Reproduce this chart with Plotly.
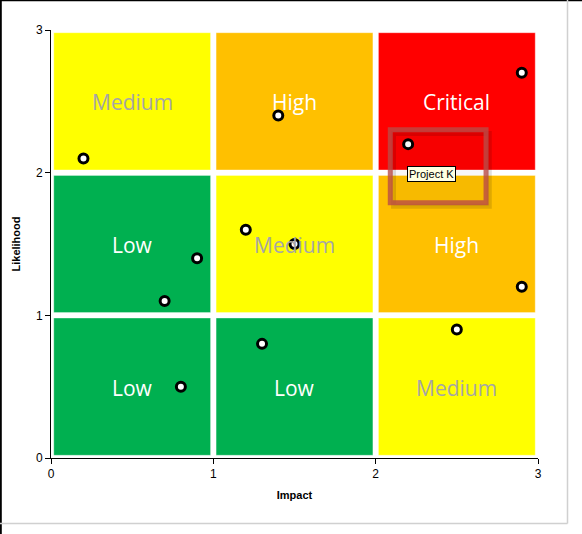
import plotly.graph_objects as go

# ---- data ----
impact_ticks = [0, 1, 2, 3]
likelihood_ticks = [0, 1, 2, 3]

# risk level per cell, rows = likelihood band (bottom -> top), cols = impact band (left -> right)
risk_grid = [
    ["Low", "Low", "Medium"],
    ["Low", "Medium", "High"],
    ["Medium", "High", "Critical"],
]
level_colors = {"Low": "#00B050", "Medium": "#FFFF00", "High": "#FFC000", "Critical": "#FF0000"}
label_colors = {"Low": "#FFFFFF", "Medium": "#A6A6A6", "High": "#FFFFFF", "Critical": "#FFFFFF"}

project_impact = [0.2, 1.4, 2.2, 2.9, 1.2, 1.5, 0.9, 0.7, 2.9, 2.5, 1.3, 0.8]
project_likelihood = [2.1, 2.4, 2.2, 2.7, 1.6, 1.5, 1.4, 1.1, 1.2, 0.9, 0.8, 0.5]

highlight_name = "Project K"
highlight_index = 2
highlight_box = [2.09, 2.68, 1.79, 2.30]  # x0, x1, y0, y1

# ---- layout geometry ----
W, H = 582, 534
ML, MR, MT, MB = 51, 44, 30, 76
PW, PH = W - ML - MR, H - MT - MB


def px_x(p):
    return (p - ML) / PW


def px_y(p):
    return (H - MB - p) / PH


fig = go.Figure()

shapes = []
annotations = []
ix, iy = 0.017, 0.019
for r, row in enumerate(risk_grid):
    for c, lvl in enumerate(row):
        shapes.append(dict(
            type="rect", xref="x", yref="y",
            x0=c + ix, x1=c + 1 - ix, y0=r + iy, y1=r + 1 - iy,
            fillcolor=level_colors[lvl],
            line=dict(color="rgba(255,255,255,0.35)", width=1),
            layer="below",
        ))
        annotations.append(dict(
            x=c + 0.5, y=r + 0.5, xref="x", yref="y", text=lvl, showarrow=False,
            font=dict(family="Open Sans", size=21, color=label_colors[lvl]),
            yshift=-1,
        ))

# highlight box (shadow + frame)
bx0, bx1, by0, by1 = highlight_box
shapes.append(dict(type="rect", xref="x", yref="y",
                   x0=bx0 + 0.02, x1=bx1 + 0.02, y0=by0 - 0.025, y1=by1 - 0.025,
                   line=dict(color="rgba(0,0,0,0.12)", width=5), fillcolor="rgba(0,0,0,0.03)"))
shapes.append(dict(type="rect", xref="x", yref="y",
                   x0=bx0, x1=bx1, y0=by0, y1=by1,
                   line=dict(color="rgba(185,75,70,0.8)", width=5), fillcolor="rgba(0,0,0,0)"))

# outer frame lines
shapes += [
    dict(type="line", xref="paper", yref="paper", x0=px_x(0), x1=px_x(W), y0=px_y(0.5), y1=px_y(0.5),
         line=dict(color="black", width=1.5)),
    dict(type="line", xref="paper", yref="paper", x0=px_x(0.8), x1=px_x(0.8), y0=px_y(0), y1=px_y(H),
         line=dict(color="black", width=2)),
    dict(type="line", xref="paper", yref="paper", x0=px_x(567.5), x1=px_x(567.5), y0=px_y(0), y1=px_y(523.5),
         line=dict(color="#D0D0D0", width=1.5)),
    dict(type="line", xref="paper", yref="paper", x0=px_x(0), x1=px_x(567.5), y0=px_y(523.5), y1=px_y(523.5),
         line=dict(color="#D0D0D0", width=1.5)),
]

fig.add_trace(go.Scatter(
    x=project_impact, y=project_likelihood, mode="markers",
    marker=dict(size=9, color="white", line=dict(color="black", width=3)),
    hoverinfo="skip", showlegend=False, cliponaxis=False,
))

# tooltip label
annotations.append(dict(
    x=project_impact[highlight_index], y=project_likelihood[highlight_index], xref="x", yref="y",
    text=highlight_name, showarrow=False, xanchor="left", yanchor="top",
    xshift=-1, yshift=-22,
    font=dict(family="Arial", size=11, color="black"),
    bgcolor="#FFFFE1", bordercolor="black", borderwidth=1, borderpad=1,
))

fig.update_layout(
    width=W, height=H,
    margin=dict(l=ML, r=MR, t=MT, b=MB),
    paper_bgcolor="white", plot_bgcolor="white",
    shapes=shapes, annotations=annotations,
    xaxis=dict(range=[0, 3], tickvals=impact_ticks, ticks="outside", ticklen=5, tickcolor="black",
               showline=True, linecolor="black", linewidth=1, showgrid=False, zeroline=False,
               tickfont=dict(family="Arial", size=12, color="black"),
               title=dict(text="<b>Impact</b>", font=dict(family="Arial", size=11, color="black"), standoff=10),
               fixedrange=True),
    yaxis=dict(range=[0, 3], tickvals=likelihood_ticks, ticks="outside", ticklen=5, tickcolor="black",
               showline=True, linecolor="black", linewidth=1, showgrid=False, zeroline=False,
               tickfont=dict(family="Arial", size=12, color="black"),
               title=dict(text="<b>Likelihood</b>", font=dict(family="Arial", size=11, color="black"), standoff=13),
               fixedrange=True),
)

fig.write_html("out.html", config={"displayModeBar": False})
